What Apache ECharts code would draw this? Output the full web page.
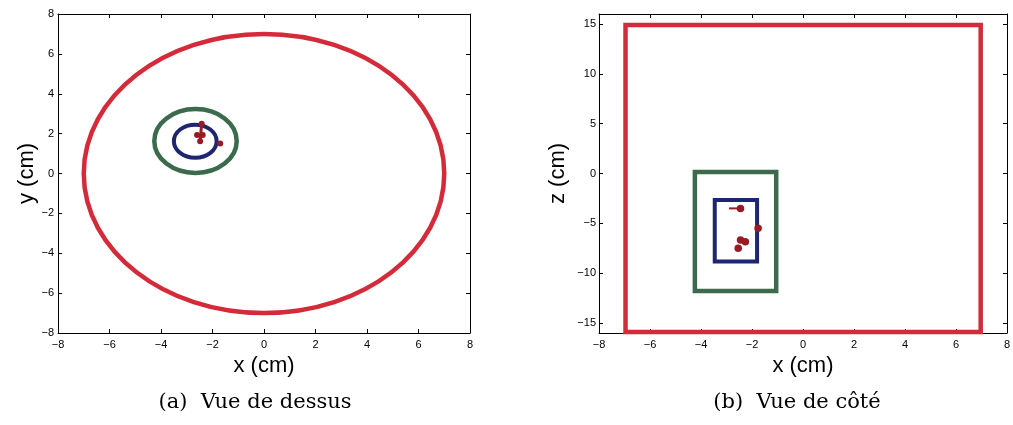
<!DOCTYPE html>
<html>
<head>
<meta charset="utf-8">
<script src="https://cdn.jsdelivr.net/npm/echarts@6/dist/echarts.min.js"></script>
<style>
html,body{margin:0;padding:0;background:#fff;}
#chart{width:1013px;height:425px;}
</style>
</head>
<body>
<div id="chart"></div>
<script>
// ---- data ----
const xTickValues = [-8, -6, -4, -2, 0, 2, 4, 6, 8];
const yTickValuesTop = [-8, -6, -4, -2, 0, 2, 4, 6, 8];
const zTickValuesSide = [-15, -10, -5, 0, 5, 10, 15];

// top view circles: [cx, cy, r] (cm)
const topRedCircle = [0, 0, 7];
const topGreenCircle = [-2.66, 1.63, 1.6];
const topBlueCircle = [-2.67, 1.62, 0.83];

// top view points
const topDotsX = [-2.42, -2.6, -2.38, -2.48, -1.7];
const topDotsY = [2.5, 1.93, 1.93, 1.62, 1.5];
const topTrackX = [-2.42, -2.46, -2.48];
const topTrackY = [2.5, 1.95, 1.62];

// side view rectangles: [x1, z1, x2, z2] (cm)
const sideRedRect = [-6.96, -15.9, 6.97, 14.9];
const sideGreenRect = [-4.24, -11.78, -1.05, 0.15];
const sideBlueRect = [-3.46, -8.84, -1.8, -2.66];

// side view points
const sideDotsX = [-2.45, -1.76, -2.45, -2.26, -2.54];
const sideDotsZ = [-3.5, -5.5, -6.67, -6.84, -7.5];
const sideTrackX = [-2.9, -2.45];
const sideTrackZ = [-3.5, -3.5];

// ---- styles ----
const RED = '#d42b3b';
const GREEN = '#3b6a4c';
const BLUE = '#1f2670';
const DOT = '#981a22';
const TICK_FONT = 'Liberation Sans';
const minus = v => String(v).replace('-', '\u2212');

function zip(a, b) { return a.map((v, i) => [v, b[i]]); }

function circleItem(color, width) {
  return function (params, api) {
    const c = api.coord([api.value(0), api.value(1)]);
    const s = api.size([api.value(2), api.value(2)]);
    return {
      type: 'ellipse',
      shape: { cx: c[0], cy: c[1], rx: s[0], ry: s[1] },
      style: { fill: 'none', stroke: color, lineWidth: width }
    };
  };
}
function rectItem(color, width) {
  return function (params, api) {
    const p1 = api.coord([api.value(0), api.value(3)]);
    const p2 = api.coord([api.value(2), api.value(1)]);
    return {
      type: 'rect',
      shape: { x: p1[0], y: p1[1], width: p2[0] - p1[0], height: p2[1] - p1[1] },
      style: { fill: 'none', stroke: color, lineWidth: width }
    };
  };
}

function baseAxis(extra) {
  return Object.assign({
    type: 'value',
    axisLine: { onZero: false, lineStyle: { color: '#000', width: 1 } },
    axisTick: { inside: true, length: 4, lineStyle: { color: '#000', width: 1 } },
    axisLabel: { color: '#000', fontSize: 11, fontFamily: TICK_FONT, formatter: minus },
    splitLine: { show: false },
    nameTextStyle: { color: '#000', fontSize: 22, fontFamily: TICK_FONT }
  }, extra);
}
function ghost(extra) {
  return baseAxis(Object.assign({ axisLabel: { show: false } }, extra));
}

const option = {
  animation: false,
  backgroundColor: '#fff',
  grid: [
    { left: 58, top: 14, width: 412, height: 319 },
    { left: 599, top: 14, width: 411, height: 319 }
  ],
  xAxis: [
    baseAxis({ gridIndex: 0, position: 'bottom', min: -8, max: 8, interval: 2,
      name: 'x (cm)', nameLocation: 'middle', nameGap: 20,
      axisLabel: { color: '#000', fontSize: 11, fontFamily: TICK_FONT, formatter: minus, margin: 6 } }),
    ghost({ gridIndex: 0, position: 'top', min: -8, max: 8, interval: 2 }),
    baseAxis({ gridIndex: 1, position: 'bottom', min: -8, max: 8, interval: 2,
      name: 'x (cm)', nameLocation: 'middle', nameGap: 20,
      axisLabel: { color: '#000', fontSize: 11, fontFamily: TICK_FONT, formatter: minus, margin: 6 } }),
    ghost({ gridIndex: 1, position: 'top', min: -8, max: 8, interval: 2 })
  ],
  yAxis: [
    baseAxis({ gridIndex: 0, position: 'left', min: -8, max: 8, interval: 2,
      name: 'y (cm)', nameLocation: 'middle', nameGap: 19,
      axisLabel: { color: '#000', fontSize: 11, fontFamily: TICK_FONT, formatter: minus, margin: 4 } }),
    ghost({ gridIndex: 0, position: 'right', min: -8, max: 8, interval: 2 }),
    baseAxis({ gridIndex: 1, position: 'left', min: -16, max: 16,
      name: 'z (cm)', nameLocation: 'middle', nameGap: 30,
      axisTick: { inside: true, length: 4, lineStyle: { color: '#000' }, customValues: zTickValuesSide },
      axisLabel: { color: '#000', fontSize: 11, fontFamily: TICK_FONT, formatter: minus, margin: 3, customValues: zTickValuesSide } }),
    ghost({ gridIndex: 1, position: 'right', min: -16, max: 16,
      axisTick: { inside: true, length: 4, lineStyle: { color: '#000' }, customValues: zTickValuesSide },
      axisLabel: { show: false, customValues: zTickValuesSide } })
  ],
  series: [
    { type: 'custom', xAxisIndex: 0, yAxisIndex: 0, clip: false, renderItem: circleItem(RED, 4.5), data: [topRedCircle] },
    { type: 'custom', xAxisIndex: 0, yAxisIndex: 0, clip: false, renderItem: circleItem(GREEN, 4.5), data: [topGreenCircle] },
    { type: 'custom', xAxisIndex: 0, yAxisIndex: 0, clip: false, renderItem: circleItem(BLUE, 4), data: [topBlueCircle] },
    { type: 'line', xAxisIndex: 0, yAxisIndex: 0, symbol: 'none', lineStyle: { color: DOT, width: 3 }, data: zip(topTrackX, topTrackY) },
    { type: 'scatter', xAxisIndex: 0, yAxisIndex: 0, symbolSize: 6, itemStyle: { color: DOT, opacity: 1 }, data: zip(topDotsX, topDotsY) },

    { type: 'custom', xAxisIndex: 2, yAxisIndex: 2, clip: false, renderItem: rectItem(RED, 4.5), data: [sideRedRect] },
    { type: 'custom', xAxisIndex: 2, yAxisIndex: 2, clip: false, renderItem: rectItem(GREEN, 4.5), data: [sideGreenRect] },
    { type: 'custom', xAxisIndex: 2, yAxisIndex: 2, clip: false, renderItem: rectItem(BLUE, 4), data: [sideBlueRect] },
    { type: 'line', xAxisIndex: 2, yAxisIndex: 2, symbol: 'none', lineStyle: { color: DOT, width: 2 }, data: zip(sideTrackX, sideTrackZ) },
    { type: 'scatter', xAxisIndex: 2, yAxisIndex: 2, symbolSize: 7.5, itemStyle: { color: DOT, opacity: 1 }, data: zip(sideDotsX, sideDotsZ) }
  ],
  graphic: [
    { type: 'text', x: 255, y: 403, style: { text: '(a)  Vue de dessus', align: 'center', verticalAlign: 'middle', fontSize: 21, fontFamily: 'DejaVu Serif', fill: '#000' } },
    { type: 'text', x: 797, y: 403, style: { text: '(b)  Vue de côté', align: 'center', verticalAlign: 'middle', fontSize: 21, fontFamily: 'DejaVu Serif', fill: '#000' } }
  ]
};

const chart = echarts.init(document.getElementById('chart'), null, { renderer: 'canvas' });
chart.setOption(option);
</script>
</body>
</html>
